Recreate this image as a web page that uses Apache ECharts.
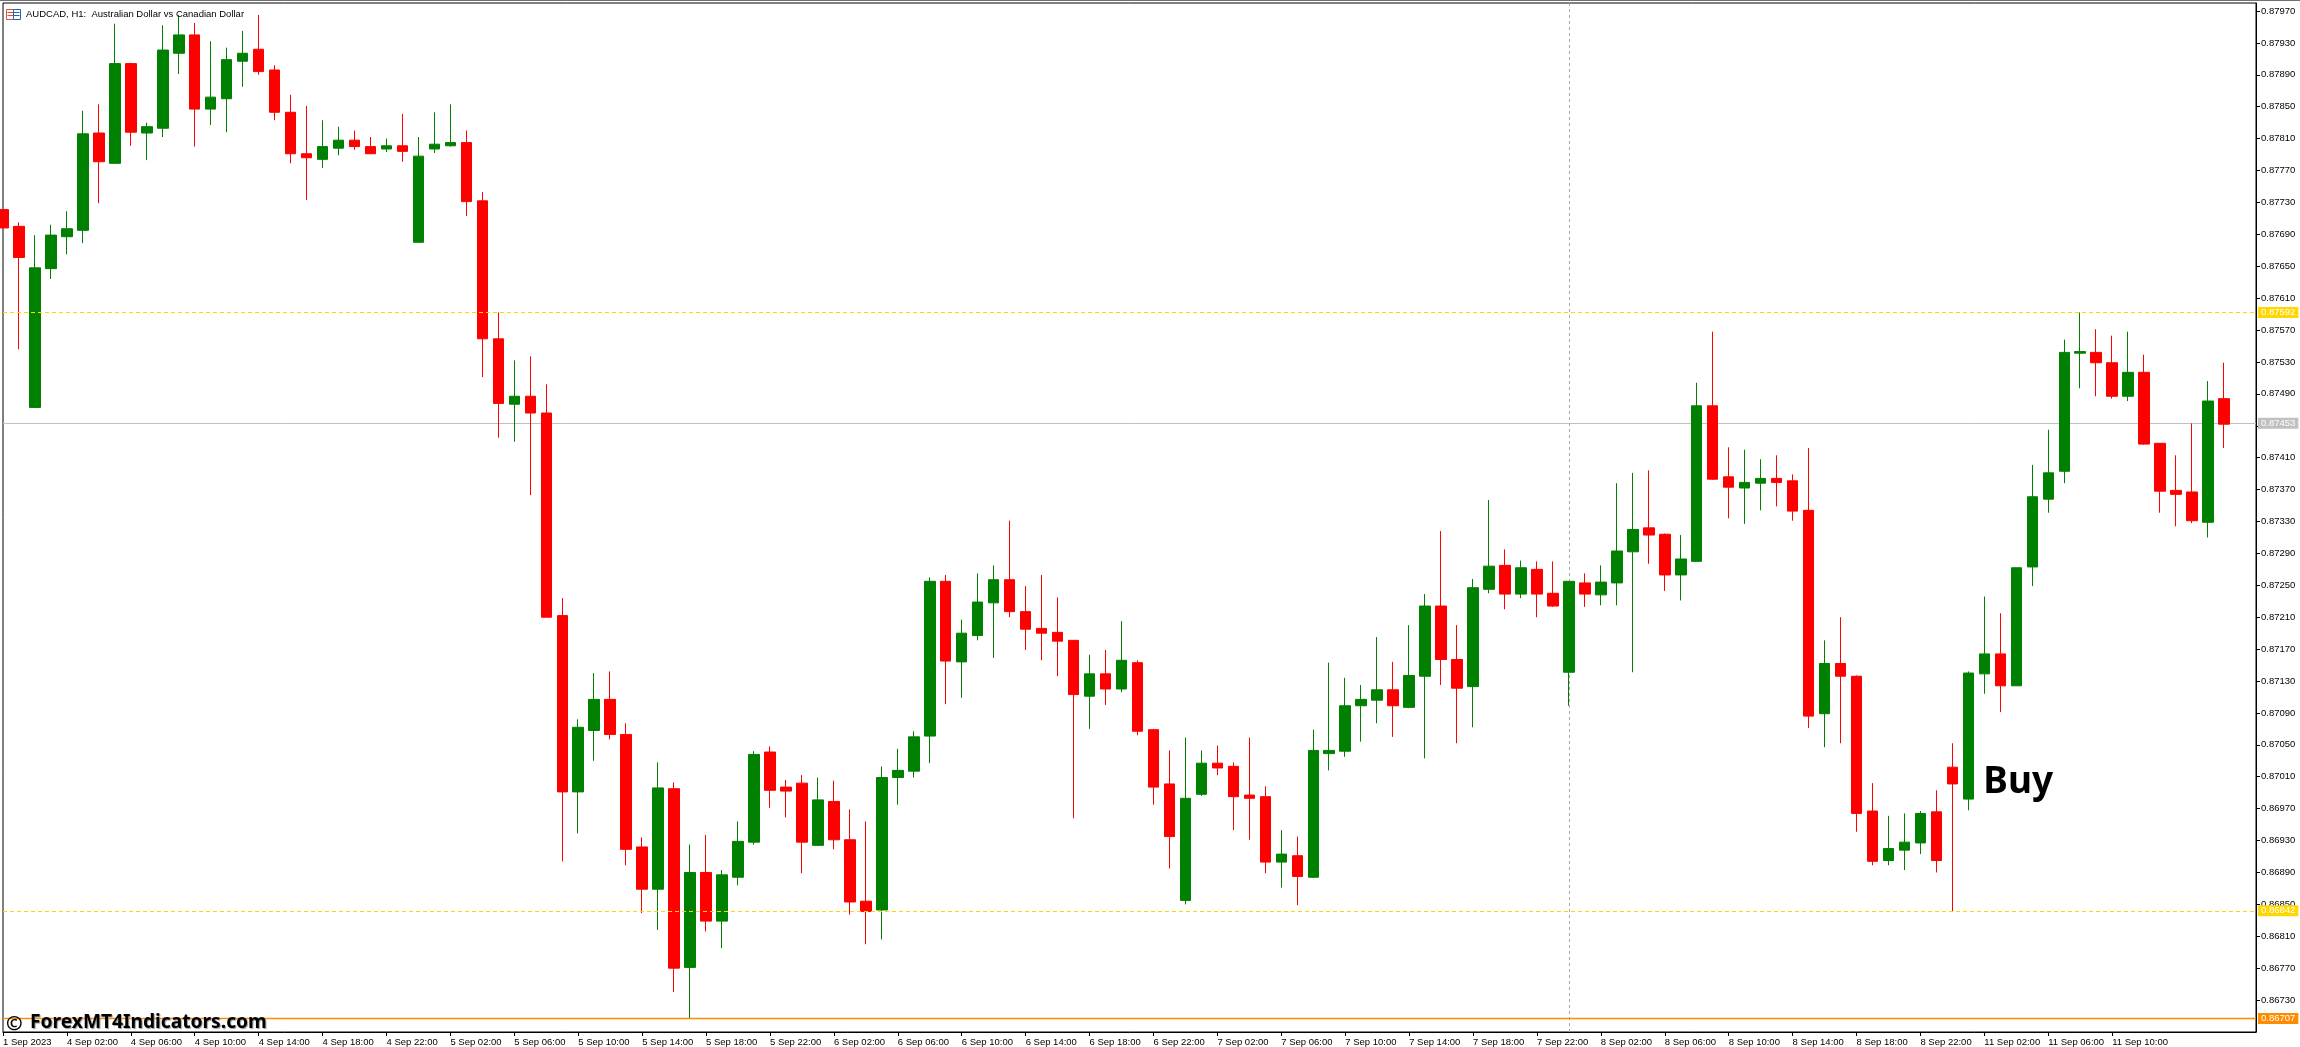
<!DOCTYPE html>
<html><head><meta charset="utf-8">
<style>html,body{margin:0;padding:0;background:#fff}#c{width:2300px;height:1047px}</style>
<script src="https://cdn.jsdelivr.net/npm/echarts@6/dist/echarts.min.js"></script>
</head><body><div id="c"></div>
<script>
const opens=[0.87721,0.87700,0.87473,0.87647,0.87687,0.87695,0.87817,0.87779,0.87904,0.87817,0.87823,0.87917,0.87940,0.87847,0.87860,0.87907,0.87922,0.87896,0.87843,0.87791,
0.87784,0.87798,0.87808,0.87800,0.87797,0.87801,0.87680,0.87797,0.87801,0.87805,0.87732,0.87559,0.87477,0.87487,0.87466,0.87212,0.86991,0.87068,0.87107,0.87063,
0.86922,0.86869,0.86995,0.86771,0.86890,0.86829,0.86884,0.86928,0.87041,0.86997,0.87002,0.86924,0.86979,0.86931,0.86854,0.86843,0.87009,0.87017,0.87061,0.87255,
0.87154,0.87187,0.87228,0.87257,0.87217,0.87196,0.87191,0.87181,0.87111,0.87139,0.87120,0.87153,0.87069,0.87001,0.86855,0.86988,0.87027,0.87023,0.86987,0.86985,
0.86903,0.86911,0.86884,0.87039,0.87042,0.87099,0.87106,0.87119,0.87097,0.87136,0.87224,0.87157,0.87123,0.87245,0.87275,0.87239,0.87270,0.87240,0.87141,0.87253,
0.87238,0.87253,0.87292,0.87322,0.87314,0.87263,0.87280,0.87475,0.87386,0.87372,0.87378,0.87384,0.87381,0.87344,0.87089,0.87152,0.87136,0.86967,0.86905,0.86918,
0.86927,0.86966,0.87022,0.86982,0.87139,0.87164,0.87124,0.87273,0.87358,0.87393,0.87541,0.87542,0.87529,0.87487,0.87517,0.87428,0.87369,0.87367,0.87329,0.87484];
const closes=[0.87698,0.87661,0.87648,0.87689,0.87697,0.87816,0.87781,0.87904,0.87818,0.87825,0.87921,0.87940,0.87847,0.87862,0.87909,0.87917,0.87894,0.87843,0.87791,0.87786,
0.87800,0.87808,0.87800,0.87791,0.87801,0.87794,0.87788,0.87803,0.87805,0.87731,0.87559,0.87478,0.87487,0.87466,0.87210,0.86991,0.87072,0.87107,0.87063,0.86919,
0.86869,0.86996,0.86770,0.86890,0.86829,0.86887,0.86929,0.87038,0.86993,0.86992,0.86928,0.86981,0.86931,0.86853,0.86841,0.87009,0.87018,0.87060,0.87255,0.87155,
0.87190,0.87229,0.87257,0.87217,0.87195,0.87190,0.87180,0.87113,0.87139,0.87120,0.87156,0.87067,0.86997,0.86935,0.86983,0.87027,0.87021,0.86985,0.86983,0.86903,
0.86913,0.86885,0.87043,0.87043,0.87099,0.87107,0.87119,0.87099,0.87137,0.87224,0.87157,0.87121,0.87247,0.87274,0.87239,0.87272,0.87239,0.87224,0.87255,0.87239,
0.87254,0.87293,0.87320,0.87313,0.87263,0.87283,0.87475,0.87383,0.87373,0.87379,0.87384,0.87379,0.87343,0.87086,0.87152,0.87136,0.86964,0.86904,0.86920,0.86928,
0.86964,0.86905,0.87001,0.87140,0.87164,0.87124,0.87272,0.87361,0.87391,0.87542,0.87543,0.87529,0.87487,0.87517,0.87427,0.87368,0.87364,0.87331,0.87481,0.87452];
const lows=[0.87698,0.87546,0.87473,0.87634,0.87665,0.87679,0.87729,0.87779,0.87801,0.87783,0.87812,0.87891,0.87800,0.87827,0.87818,0.87875,0.87890,0.87833,0.87779,0.87733,
0.87773,0.87789,0.87796,0.87791,0.87793,0.87781,0.87680,0.87792,0.87800,0.87713,0.87511,0.87435,0.87430,0.87363,0.87210,0.86904,0.86939,0.87030,0.87057,0.86899,
0.86839,0.86818,0.86740,0.86707,0.86816,0.86795,0.86874,0.86925,0.86971,0.86959,0.86889,0.86923,0.86919,0.86837,0.86800,0.86806,0.86975,0.87009,0.87027,0.87101,
0.87109,0.87181,0.87159,0.87210,0.87169,0.87156,0.87136,0.86958,0.87070,0.87100,0.87116,0.87062,0.86975,0.86895,0.86850,0.86986,0.87012,0.86943,0.86931,0.86889,
0.86871,0.86849,0.86883,0.87018,0.87035,0.87054,0.87077,0.87060,0.87096,0.87033,0.87125,0.87052,0.87072,0.87240,0.87220,0.87234,0.87210,0.87223,0.87099,0.87223,
0.87225,0.87225,0.87141,0.87277,0.87243,0.87231,0.87280,0.87382,0.87334,0.87327,0.87344,0.87349,0.87331,0.87071,0.87047,0.87052,0.86941,0.86899,0.86899,0.86893,
0.86913,0.86890,0.86841,0.86968,0.87114,0.87091,0.87124,0.87249,0.87341,0.87378,0.87497,0.87487,0.87484,0.87481,0.87426,0.87341,0.87324,0.87328,0.87310,0.87422];
const highs=[0.87721,0.87705,0.87689,0.87702,0.87719,0.87845,0.87853,0.87954,0.87905,0.87830,0.87952,0.87965,0.87955,0.87932,0.87924,0.87945,0.87965,0.87902,0.87865,0.87851,
0.87833,0.87825,0.87820,0.87812,0.87810,0.87841,0.87812,0.87843,0.87853,0.87820,0.87743,0.87592,0.87532,0.87537,0.87502,0.87234,0.87082,0.87140,0.87142,0.87077,
0.86934,0.87028,0.87003,0.86925,0.86937,0.86893,0.86954,0.87042,0.87048,0.87006,0.87012,0.87009,0.87005,0.86969,0.86954,0.87023,0.87045,0.87067,0.87260,0.87263,
0.87207,0.87265,0.87275,0.87331,0.87249,0.87263,0.87235,0.87181,0.87163,0.87169,0.87205,0.87156,0.87070,0.87043,0.87059,0.87043,0.87049,0.87028,0.87059,0.86998,
0.86943,0.86935,0.87069,0.87153,0.87134,0.87125,0.87185,0.87154,0.87200,0.87239,0.87318,0.87200,0.87258,0.87357,0.87295,0.87281,0.87280,0.87280,0.87255,0.87265,
0.87275,0.87378,0.87391,0.87394,0.87315,0.87313,0.87504,0.87568,0.87423,0.87420,0.87408,0.87413,0.87389,0.87422,0.87181,0.87210,0.87137,0.87002,0.86961,0.86964,
0.86967,0.86993,0.87052,0.87142,0.87236,0.87215,0.87272,0.87401,0.87445,0.87558,0.87592,0.87571,0.87563,0.87568,0.87539,0.87428,0.87413,0.87453,0.87506,0.87529];
const timeTickLabels=['1 Sep 2023',
'4 Sep 02:00','4 Sep 06:00','4 Sep 10:00','4 Sep 14:00','4 Sep 18:00','4 Sep 22:00',
'5 Sep 02:00','5 Sep 06:00','5 Sep 10:00','5 Sep 14:00','5 Sep 18:00','5 Sep 22:00',
'6 Sep 02:00','6 Sep 06:00','6 Sep 10:00','6 Sep 14:00','6 Sep 18:00','6 Sep 22:00',
'7 Sep 02:00','7 Sep 06:00','7 Sep 10:00','7 Sep 14:00','7 Sep 18:00','7 Sep 22:00',
'8 Sep 02:00','8 Sep 06:00','8 Sep 10:00','8 Sep 14:00','8 Sep 18:00','8 Sep 22:00',
'11 Sep 02:00','11 Sep 06:00','11 Sep 10:00','11 Sep 14:00'];
const priceTicks=[0.86730,0.86770,0.86810,0.86850,0.86890,0.86930,0.86970,0.87010,0.87050,0.87090,0.87130,0.87170,0.87210,0.87250,0.87290,0.87330,0.87370,0.87410,0.87450,0.87490,0.87530,0.87570,0.87610,0.87650,0.87690,0.87730,0.87770,0.87810,0.87850,0.87890,0.87930,0.87970];
const resistanceLevel=0.87592, supportLevel=0.86842, lowLevel=0.86707, currentLevel=0.87453;
const crosshairBar=98;
const titleText='AUDCAD, H1:  Australian Dollar vs Canadian Dollar';
const signalText='Buy', signalBar=124, signalPrice=0.87003;
const watermark='ForexMT4Indicators.com';

const BARS_PER_TICK=4;
const slots=opens.length+2;
const cats=Array.from({length:slots},(_,i)=>i%BARS_PER_TICK===0&&timeTickLabels[i/BARS_PER_TICK]?timeTickLabels[i/BARS_PER_TICK]:'b'+i);
const isTick=i=>i%BARS_PER_TICK===0&&i/BARS_PER_TICK<timeTickLabels.length;
const candles=opens.map((o,i)=>[o,closes[i],lows[i],highs[i]]);
const AXF='"Liberation Sans"';
const AXS=9.5;
const badge=(c)=>({show:true,position:'end',distance:2,formatter:p=>p.value.toFixed(5),color:'#fff',backgroundColor:c,fontFamily:AXF,fontSize:AXS,padding:[1,3,0,3],lineHeight:10,align:'left'});

const chart=echarts.init(document.getElementById('c'),null,{renderer:'canvas',width:2300,height:1047});
chart.setOption({
  animation:false,backgroundColor:'#fff',
  title:{text:titleText,left:26,top:9,textStyle:{fontFamily:AXF,fontSize:AXS,fontWeight:'normal',color:'#000',lineHeight:11},padding:0},
  grid:{left:0,top:3,width:2256,height:1029,show:true,borderColor:'#000',borderWidth:1,backgroundColor:'#fff'},
  xAxis:{type:'category',data:cats,boundaryGap:false,
    axisLine:{lineStyle:{color:'#000',width:1}},
    axisTick:{length:4,lineStyle:{color:'#000'},interval:(i)=>isTick(i)},
    axisLabel:{interval:(i)=>isTick(i),align:'left',margin:5,fontFamily:AXF,fontSize:AXS,color:'#000',hideOverlap:false,showMinLabel:true,showMaxLabel:false,
      alignMinLabel:'left',alignMaxLabel:'left'},
    splitLine:{show:false}},
  yAxis:{type:'value',position:'right',scale:true,min:0.8669,max:0.8798,
    axisLine:{show:true,lineStyle:{color:'#000',width:1}},
    axisTick:{show:true,length:4,lineStyle:{color:'#000'},customValues:priceTicks},
    axisLabel:{customValues:priceTicks,margin:5,fontFamily:AXF,fontSize:AXS,color:'#000',formatter:v=>v.toFixed(5)},
    splitLine:{show:false}},
  series:[
    {type:'line',data:[],z:1,silent:true,markLine:{silent:true,z:1,symbol:'none',animation:false,precision:5,label:{show:false},data:[
      {yAxis:currentLevel,lineStyle:{color:'#c0c0c0',type:'solid',width:1}},
      {xAxis:crosshairBar,lineStyle:{color:'#a8a8a8',type:[3,3],width:1}}
    ]}},
    {type:'candlestick',data:candles,z:3,barWidth:11,clip:true,
      itemStyle:{color:'#008000',color0:'#ff0000',borderColor:'#008000',borderColor0:'#ff0000',borderWidth:1}},
    {type:'line',data:[],z:6,silent:true,markLine:{silent:true,z:6,symbol:'none',animation:false,precision:5,data:[
        {yAxis:resistanceLevel,lineStyle:{color:'#ffd700',type:[4,3],width:1},label:badge('#ffd700')},
        {yAxis:supportLevel,lineStyle:{color:'#ffd700',type:[4,3],width:1},label:badge('#ffd700')},
        {yAxis:lowLevel,lineStyle:{color:'#ff8c00',type:'solid',width:1.4},label:badge('#ff8c00')},
        {yAxis:currentLevel,lineStyle:{color:'rgba(192,192,192,0)',width:1},label:badge('#c0c0c0')}
      ]}},
    {type:'scatter',z:7,silent:true,symbolSize:0,itemStyle:{opacity:1},data:[[signalBar,signalPrice]],
      label:{show:true,position:'right',distance:-1,formatter:signalText,fontFamily:'"Noto Sans"',fontWeight:'bold',fontSize:37,color:'#000',opacity:1}}
  ],
  graphic:[
    {type:'rect',z:50,shape:{x:0,y:0,width:2300,height:1},style:{fill:'#707070'}},
    {type:'group',z:50,left:5,top:9,children:[
      {type:'rect',shape:{x:0,y:0,width:7,height:10},style:{fill:'#fff',stroke:'#e05030',lineWidth:1}},
      {type:'rect',shape:{x:7,y:0,width:7,height:10},style:{fill:'#fff',stroke:'#2060b0',lineWidth:1}},
      {type:'line',shape:{x1:1,y1:3,x2:7,y2:3},style:{stroke:'#e05030'}},
      {type:'line',shape:{x1:1,y1:6,x2:7,y2:6},style:{stroke:'#e05030'}},
      {type:'line',shape:{x1:7,y1:3,x2:13,y2:3},style:{stroke:'#2060b0'}},
      {type:'line',shape:{x1:7,y1:6,x2:13,y2:6},style:{stroke:'#2060b0'}}
    ]},
    {type:'text',z:60,left:6,top:1014,style:{text:'©',fontFamily:'"Noto Sans"',fontWeight:'bold',fontSize:20,fill:'#000'}},
    {type:'text',z:60,left:30,top:1013,style:{text:watermark,fontFamily:'"Noto Sans"',fontWeight:'bold',fontSize:19.2,fill:'#000',textShadowColor:'#999',textShadowBlur:1,textShadowOffsetX:1,textShadowOffsetY:1}}
  ]
});
</script></body></html>
